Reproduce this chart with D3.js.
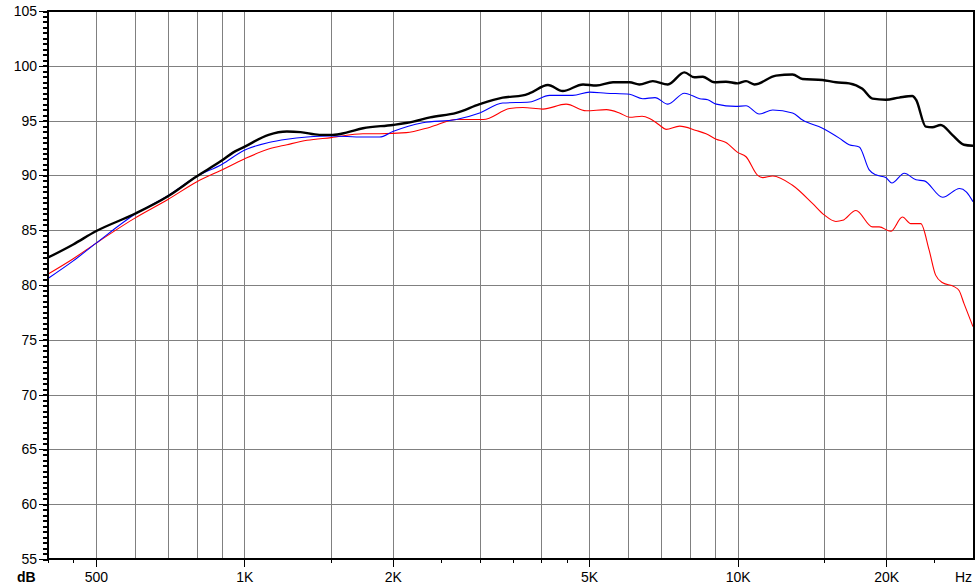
<!DOCTYPE html>
<html><head><meta charset="utf-8">
<script src="https://cdn.jsdelivr.net/npm/d3@7"></script>
<style>
html,body{margin:0;padding:0;background:#fff;}
svg{display:block;}
text{font-family:"Liberation Sans",Arial,sans-serif;}
</style></head>
<body>
<script>
// ---- data ----
const blackFreq = [400,450,500,600,700,800,900,950,1000,1120,1220,1300,1420,1510,1610,1740,2000,2200,2380,2690,3000,3340,3670,3790,4125,4420,4860,5170,5590,6040,6320,6730,7220,7800,8170,8500,8970,9470,10000,10400,10810,11960,12920,13540,14860,15820,16830,17900,18770,19970,21250,22600,23000,24070,24800,25800,27230,28760,30000];
const blackDb   = [82.5,83.7,84.9,86.5,88.1,89.9,91.35,92.1,92.6,93.7,94.0,93.95,93.7,93.7,93.9,94.3,94.6,94.9,95.3,95.7,96.5,97.1,97.3,97.5,98.25,97.7,98.3,98.2,98.5,98.5,98.3,98.6,98.3,99.4,98.95,99.0,98.5,98.55,98.4,98.6,98.3,99.1,99.2,98.8,98.7,98.5,98.4,97.9,97.0,96.9,97.1,97.25,96.9,94.45,94.4,94.6,93.7,92.8,92.7];

const blueFreq = [400,450,500,600,700,800,900,1000,1120,1220,1340,1500,1740,1880,2000,2300,2690,3000,3340,3790,4160,4630,5010,5420,6040,6420,6800,7220,7800,8380,8700,9050,9910,10400,11060,11780,12920,13540,14860,16070,16830,17640,18480,19070,19970,20540,21770,22990,23900,26040,28180,29070,30000];
const blueDb   = [80.6,82.2,83.8,86.45,88.15,89.9,91.0,92.3,93.0,93.3,93.5,93.6,93.5,93.5,94.0,94.8,95.1,95.7,96.6,96.7,97.3,97.3,97.6,97.5,97.4,97.0,97.1,96.5,97.5,97.0,96.9,96.5,96.3,96.35,95.6,95.97,95.7,95.05,94.3,93.4,92.8,92.6,90.5,90.05,89.8,89.3,90.2,89.6,89.5,88.0,88.8,88.5,87.6];

const redFreq = [400,450,500,600,700,800,900,1000,1120,1220,1340,1500,1740,1880,2130,2380,2690,3050,3450,3670,4030,4490,4930,5420,5760,6040,6400,6630,6940,7160,7630,8240,8630,9050,9470,10000,10400,10980,11240,11780,12920,14180,14980,15820,16320,17370,18770,19360,20440,21580,22440,23510,24440,25200,26040,27460,28110,28770,30000];
const redDb   = [81.0,82.4,83.8,86.1,87.8,89.4,90.5,91.5,92.4,92.8,93.2,93.45,93.8,93.8,93.9,94.4,95.1,95.1,96.1,96.2,96.05,96.5,95.9,96.0,95.7,95.3,95.4,95.2,94.6,94.2,94.5,94.1,93.8,93.3,93.0,92.1,91.7,90.0,89.8,89.95,89.1,87.45,86.4,85.8,85.9,86.8,85.3,85.3,84.9,86.2,85.6,85.6,83.2,80.9,80.2,79.85,79.5,78.3,76.2];

const yMajorTicks = [55,60,65,70,75,80,85,90,95,100,105];
const xLabelTicks = [500,1000,2000,5000,10000,20000];
const xLabelText  = ["500","1K","2K","5K","10K","20K"];
const xMinorTicks = [400,450,1500,2500,3000,3500,4000,4500,15000,25000];
const xGridLines  = [500,600,700,800,900,1000,1500,2000,3000,4000,5000,6000,7000,8000,9000,10000,15000,20000];
const yGridLines  = [60,65,70,75,80,85,90,95,100];

// ---- layout ----
const W = 979, H = 588;
const L = 48, R = 973, T = 11, B = 559;

const svg = d3.select("body").append("svg").attr("width", W).attr("height", H);

const x = d3.scaleLog().domain([400, 30000]).range([L, R]);
const y = d3.scaleLinear().domain([55, 105]).range([B, T]);

// grid
const grid = svg.append("g").attr("shape-rendering", "crispEdges");
grid.append("g").attr("transform", `translate(0,${B})`)
  .call(d3.axisBottom(x).tickValues(xGridLines).tickSize(-(B - T)).tickFormat(""))
  .call(g => g.select(".domain").remove())
  .call(g => g.selectAll("line").attr("stroke", "#808080"));
grid.append("g").attr("transform", `translate(${L},0)`)
  .call(d3.axisLeft(y).tickValues(yGridLines).tickSize(-(R - L)).tickFormat(""))
  .call(g => g.select(".domain").remove())
  .call(g => g.selectAll("line").attr("stroke", "#808080"));

// curves
svg.append("clipPath").attr("id", "clip").append("rect")
  .attr("x", L).attr("y", T).attr("width", R - L).attr("height", B - T);

const line = d3.line().x(d => x(d[0])).y(d => y(d[1])).curve(d3.curveMonotoneX);
const series = [
  {f: redFreq, v: redDb, color: "#ff0000", w: 1.1},
  {f: blueFreq, v: blueDb, color: "#0000ff", w: 1.1},
  {f: blackFreq, v: blackDb, color: "#000000", w: 2.4}
];
const cg = svg.append("g").attr("clip-path", "url(#clip)");
series.forEach(s => {
  cg.append("path")
    .datum(s.f.map((f, i) => [f, s.v[i]]))
    .attr("fill", "none")
    .attr("stroke", s.color)
    .attr("stroke-width", s.w)
    .attr("stroke-linejoin", "round")
    .attr("d", line);
});

// y axis
const yAx = svg.append("g").attr("transform", `translate(${L},0)`);
yAx.append("g")
  .call(d3.axisLeft(y).tickValues(d3.range(55, 105.01, 0.5)).tickSize(5).tickFormat(""))
  .call(g => g.select(".domain").remove())
  .call(g => g.selectAll("line").attr("stroke", "#000").attr("stroke-width", 2).attr("shape-rendering", "crispEdges"));
yAx.append("g")
  .call(d3.axisLeft(y).tickValues(yMajorTicks).tickSize(9).tickPadding(2).tickFormat(d => d))
  .call(g => g.select(".domain").remove())
  .call(g => g.selectAll("line").attr("stroke", "#000").attr("stroke-width", 1).attr("shape-rendering", "crispEdges"))
  .call(g => g.selectAll("text").attr("font-size", 14).attr("fill", "#000")
    .attr("font-family", "'Liberation Sans', Arial, sans-serif"));

// x axis
const xAx = svg.append("g").attr("transform", `translate(0,${B})`);
xAx.append("g")
  .call(d3.axisBottom(x).tickValues(xMinorTicks).tickSize(4).tickFormat(""))
  .call(g => g.select(".domain").remove())
  .call(g => g.selectAll("line").attr("stroke", "#000").attr("stroke-width", 1).attr("shape-rendering", "crispEdges"));
xAx.append("g")
  .call(d3.axisBottom(x).tickValues(xLabelTicks).tickSize(8).tickPadding(5)
    .tickFormat((d, i) => xLabelText[i]))
  .call(g => g.select(".domain").remove())
  .call(g => g.selectAll("line").attr("stroke", "#000").attr("stroke-width", 1).attr("shape-rendering", "crispEdges"))
  .call(g => g.selectAll("text").attr("font-size", 14).attr("fill", "#000")
    .attr("font-family", "'Liberation Sans', Arial, sans-serif"));

// frame
const fr = svg.append("g").attr("stroke", "#000").attr("stroke-width", 2).attr("shape-rendering", "crispEdges");
fr.append("line").attr("x1", L - 1).attr("x2", R + 2).attr("y1", T).attr("y2", T);
fr.append("line").attr("x1", R + 1).attr("x2", R + 1).attr("y1", T - 1).attr("y2", B + 1);
fr.append("line").attr("x1", L).attr("x2", L).attr("y1", T - 1).attr("y2", B + 1);
fr.append("line").attr("x1", L - 1).attr("x2", R + 2).attr("y1", B).attr("y2", B);

// unit labels
svg.append("text").attr("x", 17).attr("y", 582).attr("font-size", 14).attr("font-weight", "bold").text("dB");
svg.append("text").attr("x", 972).attr("y", 582).attr("font-size", 14).attr("text-anchor", "end").text("Hz");
</script>
</body></html>
